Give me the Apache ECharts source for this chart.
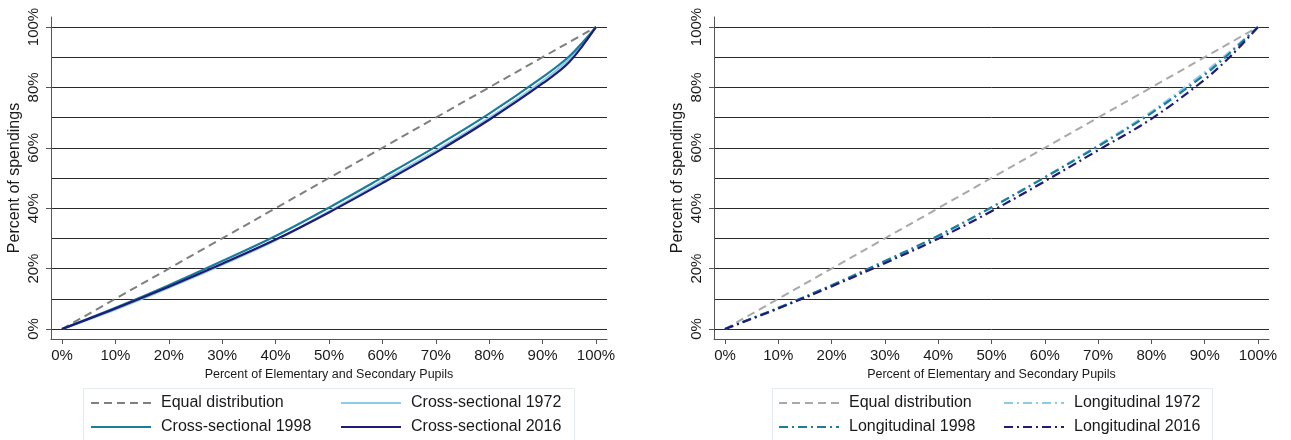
<!DOCTYPE html>
<html><head><meta charset="utf-8">
<script src="https://cdn.jsdelivr.net/npm/echarts@6/dist/echarts.min.js"></script>
<style>html,body{margin:0;padding:0;background:#fff}#c{width:1291px;height:440px}</style>
</head><body><div id="c"></div>
<script>
// ---- data ----
const pupilsPct = [0,10,20,30,40,50,60,70,80,90,95,100];
const equalDistribution = [0,10,20,30,40,50,60,70,80,90,95,100];
const crossSectional1972 = [0,6.5,13.7,21.3,29.4,38.9,48.9,59.0,69.9,82.1,89.4,100];
const crossSectional1998 = [0,7.0,14.5,22.5,30.8,40.2,50.2,60.4,71.3,83.4,90.3,100];
const crossSectional2016 = [0,6.8,14.0,21.6,29.6,38.6,48.3,58.4,69.3,81.3,88.4,100];
const longitudinal1972 = [0,7.0,14.4,22.3,30.7,40.2,50.3,60.8,72.0,85.0,92.3,100];
const longitudinal1998 = [0,7.0,14.5,22.5,30.9,40.3,50.2,60.5,71.5,84.2,91.8,100];
const longitudinal2016 = [0,6.8,14.1,21.8,29.9,39.0,48.9,59.2,69.6,82.6,90.6,100];
const xTicks = [0,10,20,30,40,50,60,70,80,90,100];
const yGridTicks = [0,10,20,30,40,50,60,70,80,90,100];
const yLabelTicks = [0,20,40,60,80,100];
const xTitle = 'Percent of Elementary and Secondary Pupils';
const yTitle = 'Percent of spendings';

const FONT = 'Liberation Sans, Arial, Helvetica, sans-serif';
const pts = ys => pupilsPct.map((x, i) => [x, ys[i]]);

const grids = [
  {left: 51, top: 17, width: 556, height: 322},
  {left: 714, top: 17, width: 555, height: 322}
];

function xAxisFor(gi) {
  return {
    type: 'value', gridIndex: gi, min: -2.06, max: 102.06,
    name: xTitle, nameLocation: 'middle', nameGap: 26,
    nameTextStyle: {fontFamily: FONT, fontSize: 12.5, color: '#1a1a1a'},
    axisLine: {show: true, onZero: false, lineStyle: {color: '#555', width: 1}},
    axisTick: {show: true, length: 5, customValues: xTicks, lineStyle: {color: '#555'}},
    axisLabel: {show: true, customValues: xTicks, formatter: '{value}%', margin: 9,
      fontFamily: FONT, fontSize: 15, color: '#1a1a1a'},
    splitLine: {show: false}
  };
}
function yAxesFor(gi) {
  return [{
    type: 'value', gridIndex: gi, min: -3.31, max: 103.31, position: 'left',
    name: yTitle, nameLocation: 'middle', nameGap: 28, nameRotate: 90,
    nameTextStyle: {fontFamily: FONT, fontSize: 16, color: '#1a1a1a'},
    axisLine: {show: false},
    axisTick: {show: false, customValues: yGridTicks},
    axisLabel: {show: false},
    splitLine: {show: true, lineStyle: {color: '#2a2a2a', width: 1}}
  }, {
    type: 'value', gridIndex: gi, min: -3.31, max: 103.31, position: 'left',
    axisLine: {show: true, onZero: false, lineStyle: {color: '#555', width: 1}},
    axisTick: {show: true, length: 5, customValues: yLabelTicks, lineStyle: {color: '#555'}},
    axisLabel: {show: true, customValues: yLabelTicks, formatter: '{value}%', rotate: 90, margin: 10,
      fontFamily: FONT, fontSize: 15, color: '#1a1a1a'},
    splitLine: {show: false}
  }];
}

const COL = {
  eqL: '#7f7f7f', eqR: '#a9a9a9',
  c72: '#8ccbe6', c98: '#1c7c9c', c16: '#1f1b78'
};
const dashEq = [8, 5];
const dashDot = [9, 4, 2, 4];

function lineSeries(name, ys, gi, color, type, width) {
  return {
    type: 'line', name, xAxisIndex: gi, yAxisIndex: gi * 2,
    data: pts(ys), symbol: 'none', smooth: 0.35, animation: false,
    lineStyle: {color, width, type}, itemStyle: {color}
  };
}

const series = [
  lineSeries('Equal distribution', equalDistribution, 0, COL.eqL, dashEq, 2),
  lineSeries('Cross-sectional 1972', crossSectional1972, 0, COL.c72, 'solid', 2.2),
  lineSeries('Cross-sectional 1998', crossSectional1998, 0, COL.c98, 'solid', 2.2),
  lineSeries('Cross-sectional 2016', crossSectional2016, 0, COL.c16, 'solid', 2.2),
  lineSeries('Equal distribution', equalDistribution, 1, COL.eqR, dashEq, 2),
  lineSeries('Longitudinal 1972', longitudinal1972, 1, COL.c72, dashDot, 2.2),
  lineSeries('Longitudinal 1998', longitudinal1998, 1, COL.c98, dashDot, 2.2),
  lineSeries('Longitudinal 2016', longitudinal2016, 1, COL.c16, dashDot, 2.2)
];

function legendCol(left, data) {
  return {
    orient: 'vertical', left, top: 395, padding: 0, itemGap: 8,
    itemWidth: 60, itemHeight: 14, selectedMode: false,
    itemStyle: {opacity: 0, color: 'transparent', borderWidth: 0},
    textStyle: {fontFamily: FONT, fontSize: 16, lineHeight: 16, color: '#1a1a1a', padding: [0, 0, 0, 5]},
    data
  };
}
const eqRightItem = {name: 'Equal distribution', lineStyle: {color: COL.eqR, type: dashEq, width: 2}, itemStyle: {opacity: 0, color: 'transparent', borderWidth: 0}};

const option = {
  backgroundColor: '#fff',
  animation: false,
  grid: grids.map(g => Object.assign({outerBoundsMode: 'none', containLabel: false}, g)),
  xAxis: [xAxisFor(0), xAxisFor(1)],
  yAxis: [...yAxesFor(0), ...yAxesFor(1)],
  legend: [
    legendCol(90, ['Equal distribution', 'Cross-sectional 1998']),
    legendCol(340, ['Cross-sectional 1972', 'Cross-sectional 2016']),
    legendCol(778, [eqRightItem, 'Longitudinal 1998']),
    legendCol(1003, ['Longitudinal 1972', 'Longitudinal 2016'])
  ],
  graphic: [
    {type: 'rect', z: -1, shape: {x: 83.5, y: 388.5, width: 491, height: 60}, style: {fill: '#fff', stroke: '#e3ebee', lineWidth: 1}},
    {type: 'rect', z: -1, shape: {x: 772.5, y: 388.5, width: 440, height: 60}, style: {fill: '#fff', stroke: '#e3ebee', lineWidth: 1}}
  ],
  series
};
const chart = echarts.init(document.getElementById('c'), null, {renderer: 'canvas'});
chart.setOption(option);
</script></body></html>
